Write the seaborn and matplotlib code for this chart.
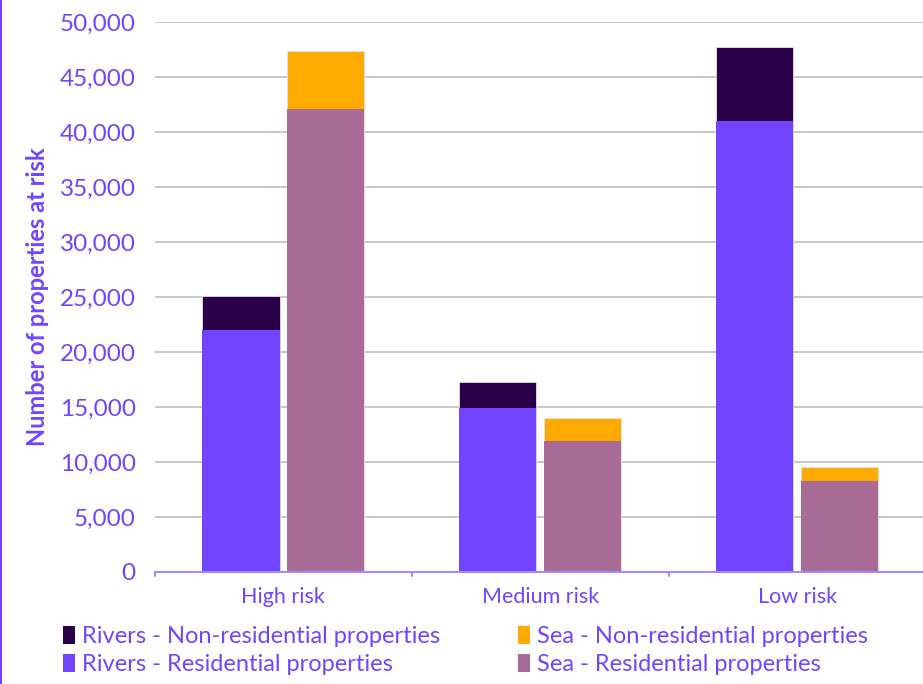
import pandas as pd
import matplotlib
matplotlib.use('Agg')
import matplotlib.pyplot as plt
import seaborn as sns
from matplotlib.patches import Patch
from matplotlib.lines import Line2D

# Values
risk_bands = ['High risk', 'Medium risk', 'Low risk']
sources = ['Rivers', 'Sea']
rivers_residential = [22000, 14900, 41000]
rivers_non_residential = [3100, 2350, 6700]
sea_residential = [42100, 11900, 8270]
sea_non_residential = [5300, 2100, 1300]

purple = '#7145FF'
colours = {
    'Rivers - Non-residential properties': '#2A0048',
    'Rivers - Residential properties': '#7145FF',
    'Sea - Non-residential properties': '#FFAA00',
    'Sea - Residential properties': '#A86B96',
}

rows = []
for i, band in enumerate(risk_bands):
    rows.append({'band': band, 'source': 'Rivers',
                 'residential': rivers_residential[i],
                 'total': rivers_residential[i] + rivers_non_residential[i]})
    rows.append({'band': band, 'source': 'Sea',
                 'residential': sea_residential[i],
                 'total': sea_residential[i] + sea_non_residential[i]})
df = pd.DataFrame(rows)

sns.set_style('white')
plt.rcParams['font.family'] = ['Lato', 'DejaVu Sans']

fig = plt.figure(figsize=(9.23, 6.84), dpi=100)
ax = fig.add_axes([155 / 923, 1 - 572 / 684, 1 - 155 / 923, (572 - 22) / 684])

# stacked look: totals (non-residential colour) behind, residential in front
sns.barplot(data=df, x='band', y='total', hue='source', order=risk_bands, hue_order=sources,
            palette=[colours['Rivers - Non-residential properties'], colours['Sea - Non-residential properties']],
            width=0.66, gap=0.09, saturation=1, errorbar=None, legend=False, ax=ax, zorder=3,
            linewidth=0.6, edgecolor='#E6DDF0')
sns.barplot(data=df, x='band', y='residential', hue='source', order=risk_bands, hue_order=sources,
            palette=[colours['Rivers - Residential properties'], colours['Sea - Residential properties']],
            width=0.66, gap=0.09, saturation=1, errorbar=None, legend=False, ax=ax, zorder=4,
            linewidth=0)

ax.set_ylim(0, 50000)
ax.set_xlim(-0.5, 2.49)
ax.set_yticks(range(0, 50001, 5000))
ax.set_yticklabels([f'{v:,}' for v in range(0, 50001, 5000)], fontsize=17.5, color=purple)
ax.tick_params(axis='y', length=0, pad=14)
ax.tick_params(axis='x', length=0, pad=11, labelsize=15.5, labelcolor=purple)
ax.yaxis.grid(True, color='#BFBFBF', linewidth=1.2, zorder=0)
ax.set_axisbelow(True)
for s in ['top', 'right', 'left']:
    ax.spines[s].set_visible(False)
ax.spines['bottom'].set_color('#A48AFF')
ax.spines['bottom'].set_linewidth(1.5)
ax.spines['bottom'].set_zorder(5)

# category separator ticks below the axis
for xb in [-0.5, 0.5, 1.5]:
    ax.plot([xb, xb], [0, -0.008], transform=ax.get_xaxis_transform(), color='#A48AFF',
            linewidth=1.5, clip_on=False)

ax.set_xlabel('')
ax.set_ylabel('Number of properties at risk', fontsize=17, fontweight='bold', color=purple)
ax.yaxis.set_label_coords(-0.138, 0.5)

# legend, row-wise order
order = ['Rivers - Non-residential properties', 'Rivers - Residential properties',
         'Sea - Non-residential properties', 'Sea - Residential properties']
handles = [Patch(facecolor=colours[k], edgecolor='none') for k in order]
leg = fig.legend(handles, order, loc='lower left', bbox_to_anchor=(42 / 923, -0.018), ncol=2,
                 frameon=False, fontsize=17, handlelength=0.5, handleheight=0.8,
                 handletextpad=0.3, columnspacing=3.3, labelspacing=0.3)
for t in leg.get_texts():
    t.set_color(purple)

# purple line along the left edge of the figure
fig.add_artist(Line2D([0.001, 0.001], [0, 1], color=purple, linewidth=1.5))

fig.savefig('out.png', dpi=100)
